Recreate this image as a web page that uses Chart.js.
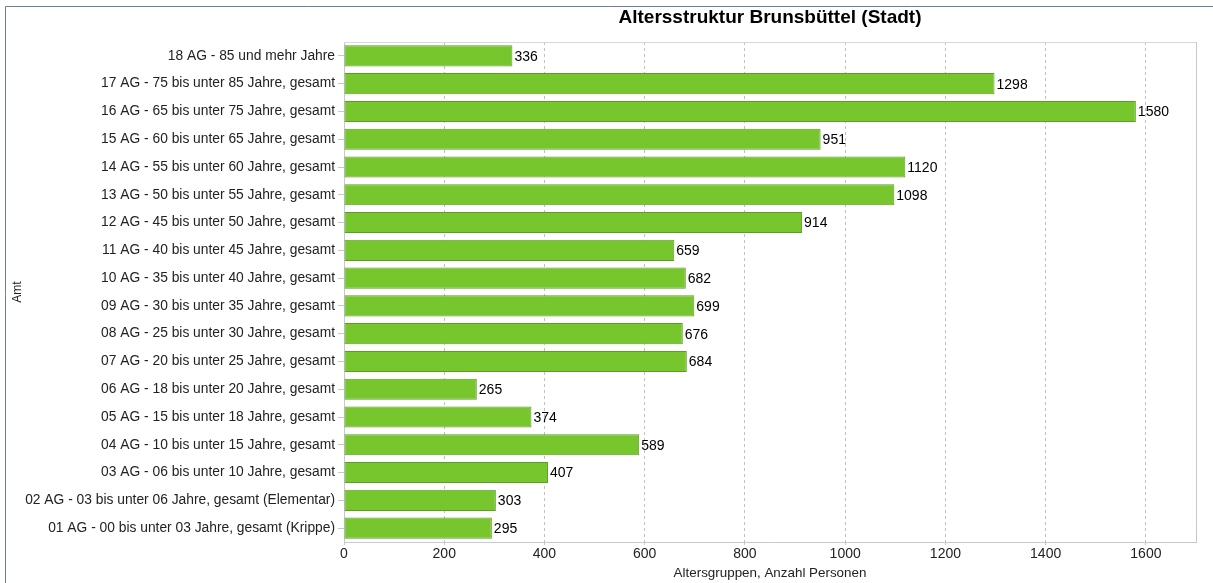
<!DOCTYPE html>
<html>
<head>
<meta charset="utf-8">
<script src="https://cdn.jsdelivr.net/npm/chart.js@4/dist/chart.umd.min.js"></script>
<style>
  html, body { margin: 0; padding: 0; background: #fff; }
  #wrap { position: relative; width: 1213px; height: 583px; }
</style>
</head>
<body>
<div id="wrap"><canvas id="chart" width="1213" height="583"></canvas></div>
<script>
// Daten
const categories = [
    '18 AG - 85 und mehr Jahre',
    '17 AG - 75 bis unter 85 Jahre, gesamt',
    '16 AG - 65 bis unter 75 Jahre, gesamt',
    '15 AG - 60 bis unter 65 Jahre, gesamt',
    '14 AG - 55 bis unter 60 Jahre, gesamt',
    '13 AG - 50 bis unter 55 Jahre, gesamt',
    '12 AG - 45 bis unter 50 Jahre, gesamt',
    '11 AG - 40 bis unter 45 Jahre, gesamt',
    '10 AG - 35 bis unter 40 Jahre, gesamt',
    '09 AG - 30 bis unter 35 Jahre, gesamt',
    '08 AG - 25 bis unter 30 Jahre, gesamt',
    '07 AG - 20 bis unter 25 Jahre, gesamt',
    '06 AG - 18 bis unter 20 Jahre, gesamt',
    '05 AG - 15 bis unter 18 Jahre, gesamt',
    '04 AG - 10 bis unter 15 Jahre, gesamt',
    '03 AG - 06 bis unter 10 Jahre, gesamt',
    '02 AG - 03 bis unter 06 Jahre, gesamt (Elementar)',
    '01 AG - 00 bis unter 03 Jahre, gesamt (Krippe)'
];
const personen = [336, 1298, 1580, 951, 1120, 1098, 914, 659, 682, 699, 676, 684, 265, 374, 589, 407, 303, 295];
const xTicks = [0, 200, 400, 600, 800, 1000, 1200, 1400, 1600];

const FONT = '"Liberation Sans", Arial, sans-serif';

// Rahmen, Titel und Werte
const extras = {
    id: 'extras',
    beforeDraw(chart) {
        const ctx = chart.ctx;
        ctx.save();
        ctx.strokeStyle = '#6f7f8f';
        ctx.lineWidth = 1;
        ctx.beginPath();
        ctx.moveTo(5.5, 583);
        ctx.lineTo(5.5, 6.5);
        ctx.lineTo(1213, 6.5);
        ctx.stroke();
        ctx.restore();
    },
    afterDraw(chart) {
        const ctx = chart.ctx;
        const a = chart.chartArea;
        ctx.save();
        // obere und rechte Kante der Zeichenfläche
        ctx.strokeStyle = '#d6d9dc';
        ctx.beginPath();
        ctx.moveTo(a.left, Math.round(a.top) + 0.5);
        ctx.lineTo(a.right, Math.round(a.top) + 0.5);
        ctx.stroke();
        ctx.strokeStyle = '#c4c9ce';
        ctx.beginPath();
        ctx.moveTo(Math.round(a.right) + 0.5, a.top);
        ctx.lineTo(Math.round(a.right) + 0.5, a.bottom);
        ctx.stroke();

        ctx.fillStyle = '#000';
        ctx.font = 'bold 19px ' + FONT;
        ctx.textAlign = 'center';
        ctx.textBaseline = 'middle';
        ctx.fillText('Altersstruktur Brunsbüttel (Stadt)', (a.left + a.right) / 2, 18);

        ctx.font = '14px ' + FONT;
        ctx.textAlign = 'left';
        const meta = chart.getDatasetMeta(0);
        meta.data.forEach((bar, i) => {
            ctx.fillText(String(personen[i]), bar.x + 2, bar.y + 1);
        });
        ctx.restore();
    }
};

new Chart(document.getElementById('chart'), {
    type: 'bar',
    data: {
        labels: categories,
        datasets: [{
            label: 'Personen',
            data: personen,
            backgroundColor: '#78c62e',
            borderColor: '#5c9e22',
            borderWidth: 1,
            borderSkipped: false,
            barPercentage: 0.76,
            categoryPercentage: 1
        }]
    },
    options: {
        indexAxis: 'y',
        responsive: false,
        animation: false,
        layout: { padding: { left: 0, top: 42, right: 17, bottom: 0 } },
        plugins: {
            legend: { display: false },
            tooltip: { enabled: false }
        },
        scales: {
            x: {
                min: 0,
                max: 1700,
                afterBuildTicks: (scale) => {
                    scale.ticks = xTicks.map(v => ({ value: v }));
                },
                afterFit: (scale) => { scale.height = 41; },
                ticks: {
                    color: '#222',
                    font: { family: FONT, size: 14 },
                    padding: 1,
                    callback: (v) => String(v)
                },
                grid: {
                    color: '#bfbfbf',
                    tickLength: 3,
                    tickColor: '#c4c9ce'
                },
                border: { display: true, color: '#c4c9ce', dash: [3, 3] },
                title: {
                    display: true,
                    text: 'Altersgruppen, Anzahl Personen',
                    color: '#222',
                    font: { family: FONT, size: 13.4 },
                    padding: { top: 0, bottom: 2 }
                }
            },
            y: {
                afterFit: (scale) => { scale.width = 344; },
                ticks: { color: '#222', font: { family: FONT, size: 13.8 }, padding: 3, autoSkip: false },
                grid: {
                    offset: false,
                    drawOnChartArea: false,
                    tickLength: 6,
                    color: '#c4c9ce'
                },
                border: { display: true, color: '#c4c9ce' },
                title: {
                    display: true,
                    text: 'Amt',
                    color: '#222',
                    font: { family: FONT, size: 12 },
                    padding: { top: 10, bottom: 0 }
                }
            }
        }
    },
    plugins: [extras]
});
</script>
</body>
</html>
